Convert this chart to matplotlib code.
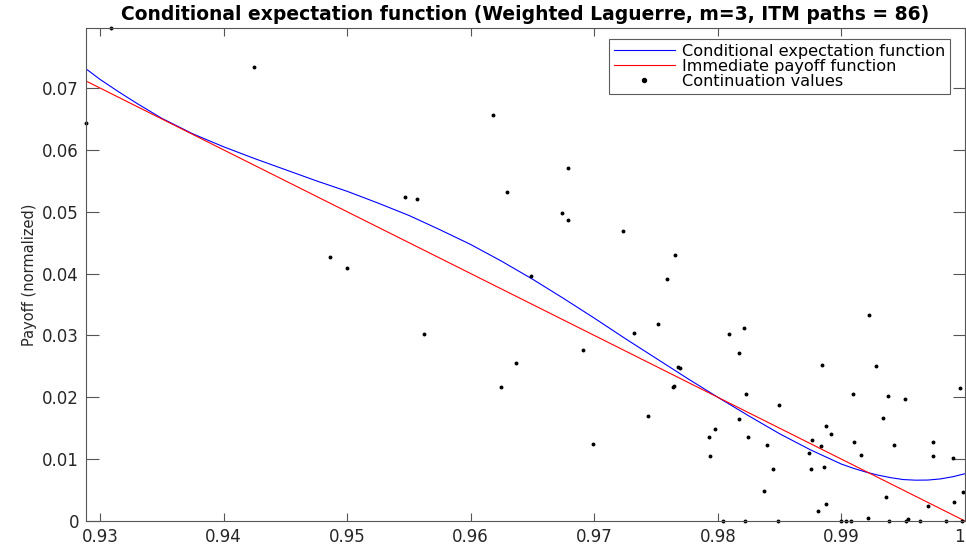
import matplotlib
matplotlib.use("Agg")
import matplotlib.pyplot as plt

plt.rcParams['font.family'] = ['DejaVu Sans']

# ---- data ----
cont_x = [0.92887, 0.93089, 0.94248, 0.94860, 0.94998, 0.95469, 0.95564, 0.95621,
          0.96177, 0.96244, 0.96294, 0.96366, 0.96484, 0.96738, 0.96784, 0.96790,
          0.97234, 0.96907, 0.96990, 0.97320, 0.97437, 0.97518, 0.97590, 0.97652,
          0.97636, 0.97645, 0.97694, 0.97680, 0.97975, 0.97930, 0.97935, 0.98092,
          0.98210, 0.98173, 0.98224, 0.98172, 0.98243, 0.98399, 0.98372, 0.98450,
          0.98496, 0.98043, 0.98220, 0.98487, 0.98846, 0.98874, 0.98917, 0.98763,
          0.98836, 0.98737, 0.98753, 0.98855, 0.98876, 0.98809, 0.98997, 0.99037,
          0.99078, 0.99222, 0.99278, 0.99095, 0.99373, 0.99518, 0.99335, 0.99100,
          0.99424, 0.99162, 0.99739, 0.99742, 0.99901, 0.99963, 0.99984, 0.99364,
          0.99704, 0.99914, 0.99214, 0.99542, 0.99385, 0.99523, 0.99636, 0.99846,
          0.99976]
cont_y = [0.0643, 0.0797, 0.07345, 0.0427, 0.04087, 0.05242, 0.0521, 0.03027,
          0.0656, 0.02168, 0.05323, 0.0256, 0.03958, 0.04974, 0.05705, 0.04861,
          0.04694, 0.02764, 0.01248, 0.03032, 0.0170, 0.03177, 0.0392, 0.04296,
          0.02161, 0.0218, 0.02474, 0.0249, 0.0149, 0.01366, 0.01055, 0.03022,
          0.0312, 0.0272, 0.0206, 0.0165, 0.01355, 0.01232, 0.0049, 0.00834,
          0.01882, 0.0, 0.0, 0.0, 0.02516, 0.01533, 0.01404, 0.01307,
          0.01216, 0.01103, 0.00839, 0.00877, 0.0028, 0.00156, 0.0, 0.0,
          0.0, 0.03334, 0.02511, 0.0206, 0.02022, 0.01979, 0.01662, 0.01275,
          0.01227, 0.0106, 0.01275, 0.01055, 0.01017, 0.0215, 0.00474, 0.00382,
          0.00248, 0.0030, 0.00044, 0.0004, 0.0, 0.0, 0.0, 0.0,
          0.0]

cef_x = [0.92887, 0.9300, 0.9315, 0.9330, 0.9350, 0.9375, 0.9400, 0.9425, 0.9450,
         0.9475, 0.9500, 0.9525, 0.9550, 0.9575, 0.9600, 0.9625, 0.9650, 0.9675,
         0.9700, 0.9725, 0.9750, 0.9775, 0.9800, 0.9825, 0.9850, 0.9875, 0.9900,
         0.9910, 0.9920, 0.9930, 0.9940, 0.9950, 0.9960, 0.9970, 0.9980, 0.9990,
         1.0000]
cef_y = [0.0731, 0.0714, 0.0694, 0.0675, 0.0651, 0.0626, 0.0605, 0.0586, 0.0568,
         0.0550, 0.0533, 0.0514, 0.0494, 0.0471, 0.0447, 0.0420, 0.0391, 0.0360,
         0.0328, 0.0295, 0.0263, 0.0231, 0.0200, 0.0170, 0.0141, 0.0115, 0.0092,
         0.0085, 0.0079, 0.0074, 0.0070, 0.0067, 0.00660, 0.00662, 0.0068, 0.00715,
         0.00765]

payoff_x = [0.92887, 1.0]
payoff_y = [0.07113, 0.0]

x_ticks = [0.93, 0.94, 0.95, 0.96, 0.97, 0.98, 0.99, 1.0]
x_tick_labels = ['0.93', '0.94', '0.95', '0.96', '0.97', '0.98', '0.99', '1']
y_ticks = [0, 0.01, 0.02, 0.03, 0.04, 0.05, 0.06, 0.07]
y_tick_labels = ['0', '0.01', '0.02', '0.03', '0.04', '0.05', '0.06', '0.07']

title = 'Conditional expectation function (Weighted Laguerre, m=3, ITM paths = 86)'

# ---- figure ----
fig = plt.figure(figsize=(9.66, 5.47), dpi=100)
ax = fig.add_axes([86/966, 1-521/547, (965-86)/966, (521-28)/547])

ax.plot(cef_x, cef_y, color=(0, 0, 1), lw=0.8, label='Conditional expectation function')
ax.plot(payoff_x, payoff_y, color=(1, 0, 0), lw=0.8, label='Immediate payoff function')
ax.plot(cont_x, cont_y, ls='none', marker='o', ms=1.8, color='black', mec='black',
        label='Continuation values', clip_on=False)

ax.set_xlim(min(cont_x), 1.0)
ax.set_ylim(0, max(cont_y))

axis_col = '#555555'
for s in ax.spines.values():
    s.set_color(axis_col)
    s.set_linewidth(0.8)

ax.set_xticks(x_ticks)
ax.set_xticklabels(x_tick_labels)
ax.set_yticks(y_ticks)
ax.set_yticklabels(y_tick_labels)
ax.tick_params(axis='x', direction='in', length=6, width=0.8, color=axis_col,
               top=True, labelsize=12, labelcolor='#262626', pad=5)
ax.tick_params(axis='y', direction='in', length=9, width=0.8, color=axis_col,
               right=True, labelsize=12, labelcolor='#262626', pad=5)
ax.get_xticklabels()[-1].set_horizontalalignment('right')

ax.set_ylabel('Payoff (normalized)', fontsize=10.5, color='#262626', labelpad=4)
ax.set_title(title, fontsize=13.5, fontweight='bold', color='black', pad=6)

leg = ax.legend(loc='upper right', bbox_to_anchor=(0.983, 0.978), borderaxespad=0,
                fontsize=11.6, frameon=True, fancybox=False, handlelength=3.8,
                handletextpad=0.45, borderpad=0.3, labelspacing=0.0, markerscale=1.6)
leg.get_frame().set_edgecolor('#333333')
leg.get_frame().set_linewidth(0.8)

fig.savefig('out.png', dpi=100, facecolor='white')
